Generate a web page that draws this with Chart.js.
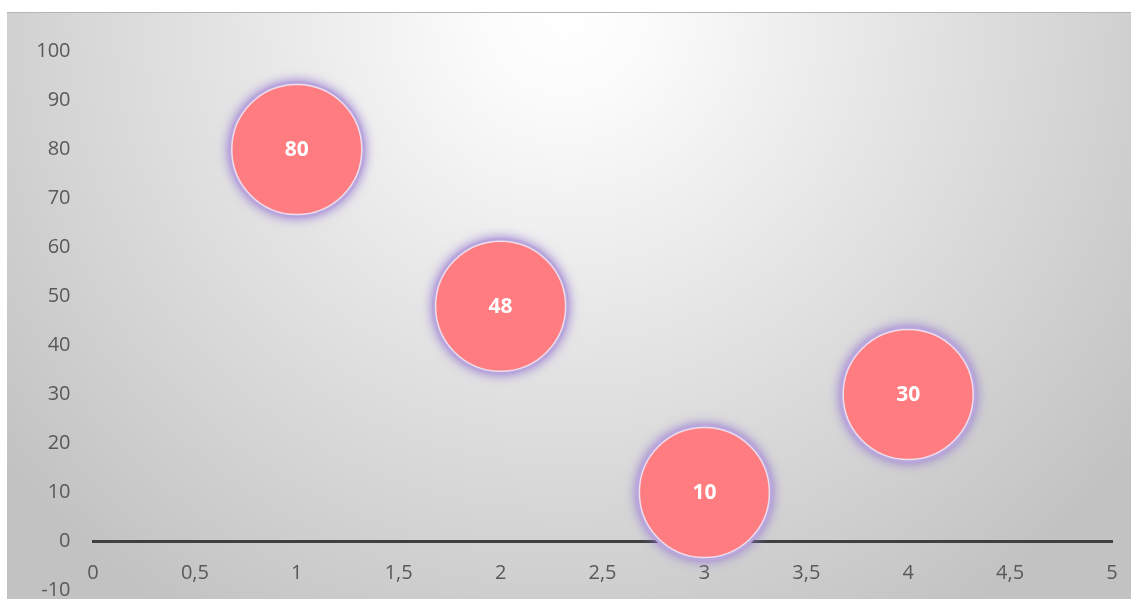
<!DOCTYPE html>
<html>
<head>
<meta charset="utf-8">
<script src="https://cdn.jsdelivr.net/npm/chart.js@4/dist/chart.umd.min.js"></script>
<style>
  html, body { margin: 0; padding: 0; background: #ffffff; }
  #wrap { width: 1131px; height: 599px; }
</style>
</head>
<body>
<div id="wrap"><canvas id="chart" width="1131" height="599"></canvas></div>
<script>
// Bubble positions (x value) and their values
const xValues = [1, 2, 3, 4];
const yValues = [80, 48, 10, 30];

// Axis ranges
const xMin = 0, xMax = 5, xStep = 0.5;
const yMin = -10, yMax = 100, yStep = 10;

const points = xValues.map((x, i) => ({ x: x, y: yValues[i] }));

// Panel background: radial light from the top centre fading to grey
const panelBackground = {
  id: 'panelBackground',
  beforeDraw(chart) {
    const ctx = chart.ctx;
    const w = chart.width, h = chart.height;
    ctx.save();
    ctx.fillStyle = '#ffffff';
    ctx.fillRect(0, 0, w, h);
    const g = ctx.createRadialGradient(565, 12, 0, 565, 12, 720);
    g.addColorStop(0, '#ffffff');
    g.addColorStop(0.12, '#fbfbfb');
    g.addColorStop(1, '#c2c2c2');
    ctx.fillStyle = g;
    ctx.fillRect(7, 12, w - 7, h - 12);
    ctx.strokeStyle = '#b4b4b4';
    ctx.lineWidth = 1;
    ctx.beginPath();
    ctx.moveTo(7, 12.5);
    ctx.lineTo(w, 12.5);
    ctx.stroke();
    ctx.restore();
  }
};

// Soft lavender glow round each bubble
const bubbleGlow = {
  id: 'bubbleGlow',
  beforeDatasetDraw(chart, args) {
    const ctx = chart.ctx;
    ctx.save();
    ctx.shadowColor = 'rgba(150, 120, 210, 1)';
    ctx.shadowBlur = 12;
    ctx.shadowOffsetX = 0;
    ctx.shadowOffsetY = 0;
    args.meta.data.forEach(el => {
      ctx.beginPath();
      ctx.arc(el.x, el.y, el.options.radius + 3.5, 0, Math.PI * 2);
      ctx.fillStyle = '#b9a6dc';
      ctx.fill();
    });
    ctx.shadowColor = 'rgba(0, 0, 0, 0)';
    ctx.shadowBlur = 0;
  },
  afterDatasetDraw(chart) {
    chart.ctx.restore();
  }
};

// Value labels in the middle of each bubble
const bubbleLabels = {
  id: 'bubbleLabels',
  afterDatasetsDraw(chart) {
    const ctx = chart.ctx;
    ctx.save();
    ctx.fillStyle = '#ffffff';
    ctx.font = 'bold 21px "Open Sans", "Liberation Sans", sans-serif';
    ctx.textAlign = 'center';
    ctx.textBaseline = 'middle';
    chart.data.datasets.forEach((ds, di) => {
      chart.getDatasetMeta(di).data.forEach((el, i) => {
        ctx.fillText(String(ds.data[i].y), el.x, el.y + 1);
      });
    });
    ctx.restore();
  }
};

const tickFont = { family: '"Open Sans", "Liberation Sans", sans-serif', size: 20 };

new Chart(document.getElementById('chart'), {
  type: 'bubble',
  data: {
    datasets: [{
      data: points,
      radius: 65,
      backgroundColor: '#FF7C80',
      borderColor: '#EEDDEB',
      borderWidth: 1.5,
      hoverRadius: 0
    }]
  },
  options: {
    responsive: false,
    animation: false,
    events: [],
    clip: false,
    layout: { autoPadding: false, padding: { left: 0, right: 19, top: 51.5, bottom: 8.5 } },
    plugins: {
      legend: { display: false },
      tooltip: { enabled: false }
    },
    scales: {
      x: {
        type: 'linear',
        position: { y: 0 },
        min: xMin,
        max: xMax,
        afterFit(scale) {
          scale.height = 0;
          scale.paddingLeft = 0;
          scale.paddingRight = 0;
        },
        grid: { display: false, drawTicks: false },
        border: { display: true, color: '#404040', width: 3 },
        ticks: {
          stepSize: xStep,
          padding: 20,
          color: '#595959',
          font: tickFont,
          maxRotation: 0,
          autoSkip: false,
          callback: v => String(v).replace('.', ',')
        }
      },
      y: {
        type: 'linear',
        position: 'left',
        min: yMin,
        max: yMax,
        afterFit(scale) {
          scale.width = 93;
          scale.paddingTop = 0;
          scale.paddingBottom = 0;
        },
        grid: { display: false, drawTicks: false },
        border: { display: false },
        ticks: {
          stepSize: yStep,
          padding: 22.5,
          color: '#595959',
          font: tickFont
        }
      }
    }
  },
  plugins: [panelBackground, bubbleGlow, bubbleLabels]
});
</script>
</body>
</html>
